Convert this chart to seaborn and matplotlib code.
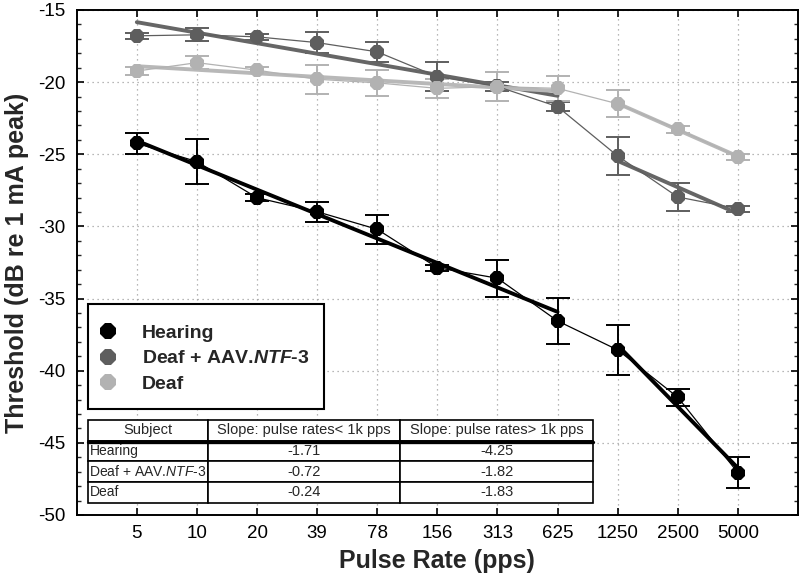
import numpy as np
import pandas as pd
import matplotlib
matplotlib.use("Agg")
import matplotlib.pyplot as plt
import seaborn as sns
from matplotlib.ticker import MultipleLocator, FixedLocator
from matplotlib.lines import Line2D
from matplotlib.patches import Rectangle

# ---------------- data ----------------
rates = ['5', '10', '20', '39', '78', '156', '313', '625', '1250', '2500', '5000']
groups = ['Hearing', 'Deaf + AAV.NTF-3', 'Deaf']
hearing = [-24.24, -25.51, -28.01, -28.98, -30.20, -32.86, -33.59, -36.55, -38.56, -41.84, -47.07]
hearing_err = [0.72, 1.54, 0.25, 0.69, 1.0, 0.22, 1.27, 1.6, 1.73, 0.6, 1.09]
aav = [-16.79, -16.72, -16.86, -17.26, -17.90, -19.62, -20.30, -21.70, -25.12, -27.96, -28.77]
aav_err = [0.2, 0.45, 0.2, 0.72, 0.7, 1.0, 0.3, 0.33, 1.3, 1.0, 0.2]
deaf = [-19.23, -18.65, -19.17, -19.80, -20.05, -20.43, -20.31, -20.43, -21.50, -23.26, -25.17]
deaf_err = [0.25, 0.45, 0.2, 1.0, 0.9, 0.65, 0.98, 0.86, 0.95, 0.25, 0.2]

table_header = ['Subject', 'Slope: pulse rates< 1k pps', 'Slope: pulse rates> 1k pps']
table_subjects = ['Hearing', 'Deaf + AAV.$\\mathit{NTF}$-3', 'Deaf']
slope_low = ['-1.71', '-0.72', '-0.24']
slope_high = ['-4.25', '-1.82', '-1.83']

colors = ['#000000', '#5e5e5e', '#b2b2b2']
fit_colors = ['#000000', '#666666', '#b8b8b8']

# ---------------- style ----------------
sns.set_theme(style='ticks')
plt.rcParams['font.family'] = ['Liberation Sans', 'DejaVu Sans']
plt.rcParams['axes.unicode_minus'] = False
plt.rcParams['mathtext.fontset'] = 'custom'
plt.rcParams['mathtext.rm'] = 'Liberation Sans'
plt.rcParams['mathtext.it'] = 'Liberation Sans:italic'
plt.rcParams['mathtext.sf'] = 'Liberation Sans:bold:italic'

pos = np.arange(len(rates))
values = [hearing, aav, deaf]
errs = [hearing_err, aav_err, deaf_err]

df = pd.DataFrame({
    'pos': np.tile(pos, 3),
    'thr': np.concatenate(values),
    'group': np.repeat(groups, len(rates)),
})

fig, ax = plt.subplots(figsize=(8, 5.78), dpi=100)
fig.subplots_adjust(left=0.0959, right=0.9975, top=0.9827, bottom=0.109)

# thin connecting lines with markers
for g, c in zip(groups, colors):
    sns.lineplot(data=df[df.group == g], x='pos', y='thr', color=c, lw=0.9,
                 marker='8', markersize=11.5, markeredgewidth=0, sort=False,
                 legend=False, ax=ax, zorder=4)

# error bars
for v, e, c in zip(values, errs, colors):
    ax.errorbar(pos, v, yerr=e, fmt='none', ecolor=c, elinewidth=1.4,
                capsize=8.5, capthick=1.4, zorder=3)

# regression lines (below / above 1k pps)
for v, c in zip(values, fit_colors):
    v = np.asarray(v)
    sns.regplot(x=pos[:8], y=v[:8], ci=None, scatter=False, truncate=True,
                color=c, line_kws=dict(lw=2.8, zorder=3.5), ax=ax)
    sns.regplot(x=pos[8:], y=v[8:], ci=None, scatter=False, truncate=True,
                color=c, line_kws=dict(lw=2.8, zorder=3.5), ax=ax)

# ---------------- axes ----------------
ax.set_xlim(-1, 11)
ax.set_ylim(-50, -15)
ax.xaxis.set_major_locator(FixedLocator(pos))
ax.set_xticklabels(rates)
ax.yaxis.set_major_locator(MultipleLocator(5))
ax.yaxis.set_minor_locator(MultipleLocator(1))
ax.tick_params(axis='both', which='major', direction='in', length=5, width=1.2,
               top=True, right=True, labelsize=13.5, colors='black')
ax.tick_params(axis='y', which='minor', direction='in', length=3, width=1.0,
               left=True, right=True)
ax.tick_params(axis='x', which='major', pad=7)
ax.tick_params(axis='y', which='major', pad=8)
for s in ax.spines.values():
    s.set_visible(True)
    s.set_color('black')
    s.set_linewidth(1.4)
ax.grid(True, which='major', linestyle=(0, (1, 3)), color='#a0a0a0', lw=0.9)
ax.set_axisbelow(True)

ax.set_xlabel('Pulse Rate (pps)', fontsize=18, fontweight='bold', labelpad=5)
ax.set_ylabel('Threshold (dB re 1 mA peak)', fontsize=18, fontweight='bold', labelpad=7)

# ---------------- legend ----------------
ax.add_patch(Rectangle((0.0157, 0.21), 0.3272, 0.208, transform=ax.transAxes,
                       facecolor='white', edgecolor='black', lw=1.5, zorder=6))
handles = [Line2D([], [], ls='none', marker='8', markersize=12.5, markeredgewidth=0, color=c)
           for c in colors]
leg_labels = ['Hearing', 'Deaf + AAV.$\\mathsf{NTF}$-3', 'Deaf']
leg = ax.legend(handles, leg_labels, loc='upper left', bbox_to_anchor=(0.0296, 0.378),
                frameon=False, borderpad=0, borderaxespad=0, handlelength=1.0,
                handletextpad=1.25, labelspacing=0.42,
                prop=dict(family='Liberation Sans', weight='bold', size=14))
leg.set_zorder(7)

# ---------------- table ----------------
cell_text = [[s, lo, hi] for s, lo, hi in zip(table_subjects, slope_low, slope_high)]
x0 = 0.0157
w = 0.7001
tbl = ax.table(cellText=cell_text, colLabels=table_header, cellLoc='center',
               colWidths=[120.3, 191.7, 193.0], bbox=[x0, 0.0244, w, 0.1636])
tbl.auto_set_font_size(False)
tbl.set_fontsize(10.5)
tbl.set_zorder(6)
for (r, cidx), cell in tbl.get_celld().items():
    cell.set_edgecolor('black')
    cell.set_linewidth(1.2)
    cell.set_facecolor('white')
    if r >= 1 and cidx == 0:
        cell._loc = 'left'
        cell.PAD = 0.012
        cell.get_text().set_horizontalalignment('left')
        cell.get_text().set_fontsize(10)
ax.add_line(Line2D([x0, x0 + w], [0.1445, 0.1445], transform=ax.transAxes,
                   color='black', lw=2.4, zorder=8))

fig.savefig('out.png', dpi=100)
